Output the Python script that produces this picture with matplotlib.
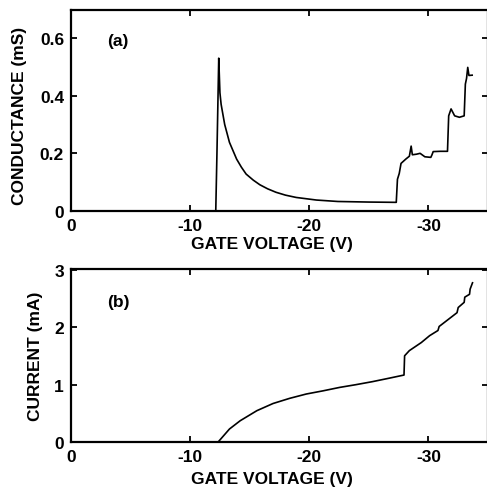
import matplotlib

matplotlib.use("Agg")
import matplotlib.pyplot as plt  # noqa: E402

# panel (a): conductance trace
volt_a = [0, -12.15, -12.25, -12.4, -12.45, -12.5, -12.6, -12.9, -13.3, -13.9,
          -14.3, -14.7, -15.3, -15.85, -16.5, -17.2, -18.0, -18.9, -20.6,
          -22.4, -25.0, -27.3, -27.4, -27.55, -27.7, -28.1, -28.4, -28.55,
          -28.65, -29.0, -29.3, -29.7, -30.2, -30.3, -30.4, -31.0, -31.6,
          -31.7, -31.9, -32.2, -32.6, -33.0, -33.1, -33.2, -33.3, -33.4,
          -33.67]
cond_a = [0, 0, 0.2, 0.53, 0.47, 0.41, 0.37, 0.30, 0.238, 0.18,
          0.152, 0.128, 0.107, 0.091, 0.077, 0.065, 0.055, 0.047, 0.038,
          0.033, 0.031, 0.030, 0.11, 0.13, 0.165, 0.18, 0.19, 0.225,
          0.195, 0.197, 0.2, 0.188, 0.186, 0.195, 0.206, 0.207, 0.207,
          0.33, 0.354, 0.33, 0.325, 0.33, 0.44, 0.46, 0.498, 0.47,
          0.471]

# panel (b): source-drain current
volt_b = [-12.35, -13.3, -14.2, -15.6, -16.96, -18.36, -19.75, -21.15, -22.55,
          -23.9, -25.3, -26.7, -27.95, -28.0, -28.4, -29.4, -30.1, -30.8,
          -30.9, -32.4, -32.5, -33.0, -33.05, -33.45, -33.5, -33.7]
curr_b = [0, 0.226, 0.37, 0.545, 0.67, 0.76, 0.835, 0.89, 0.95,
          0.997, 1.05, 1.11, 1.165, 1.50, 1.59, 1.73, 1.85, 1.94,
          2.01, 2.25, 2.34, 2.43, 2.52, 2.57, 2.66, 2.77]

x_ticks = [0, -10, -20, -30]
x_labels = ["0", "-10", "-20", "-30"]
ya_ticks = [0, 0.2, 0.4, 0.6]
ya_labels = ["0", "0.2", "0.4", "0.6"]
yb_ticks = [0, 1, 2, 3]
yb_labels = ["0", "1", "2", "3"]

FONT = dict(family="Liberation Sans", weight="bold", size=12.5)

plt.rcParams["font.family"] = "Liberation Sans"
plt.rcParams["font.weight"] = "bold"

fig = plt.figure(figsize=(4.87, 4.89), dpi=100, facecolor="white")
W, H = 487.0, 489.0
ax_a = fig.add_axes([71 / W, 1 - 212 / H, 417 / W, 201 / H])
ax_b = fig.add_axes([71 / W, 1 - 443 / H, 417 / W, 173 / H])

for ax in (ax_a, ax_b):
    for s in ax.spines.values():
        s.set_linewidth(1.6)
    ax.tick_params(direction="in", length=4, width=1.3, top=True, right=True,
                   pad=5)
    ax.set_xlim(0, -35)
    ax.set_xticks(x_ticks)
    ax.set_xticklabels(x_labels, fontdict=FONT)
    ax.set_xlabel("GATE VOLTAGE (V)", fontdict=FONT)

ax_a.plot(volt_a, cond_a, color="black", lw=1.2)
ax_a.set_ylim(0, 0.697)
ax_a.set_yticks(ya_ticks)
ax_a.set_yticklabels(ya_labels, fontdict=FONT)
ax_a.set_ylabel("CONDUCTANCE (mS)", fontdict=FONT)
ax_a.xaxis.set_label_coords(0.482, -0.125)
ax_a.yaxis.set_label_coords(-0.105, 0.48)
ax_a.text(-3.9, 0.59, "(a)", fontdict=FONT, ha="center", va="center")

ax_b.plot(volt_b, curr_b, color="black", lw=1.2)
ax_b.set_ylim(0, 3.01)
ax_b.set_yticks(yb_ticks)
ax_b.set_yticklabels(yb_labels, fontdict=FONT)
ax_b.set_ylabel("CURRENT (mA)", fontdict=FONT)
ax_b.xaxis.set_label_coords(0.482, -0.17)
ax_b.yaxis.set_label_coords(-0.068, 0.5)
ax_b.text(-4.0, 2.45, "(b)", fontdict=FONT, ha="center", va="center")

fig.savefig("out.png", dpi=100, facecolor="white")
